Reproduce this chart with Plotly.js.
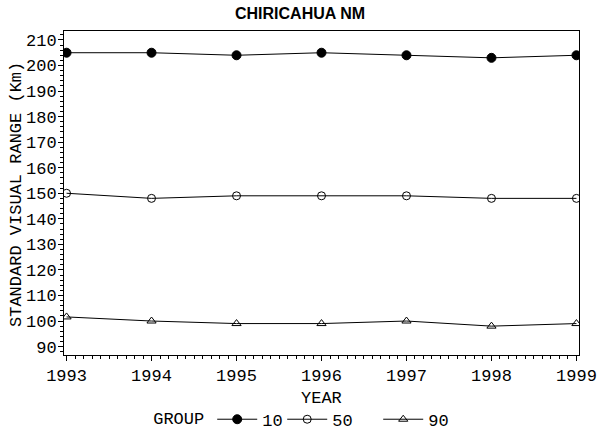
<!DOCTYPE html>
<html>
<head>
<meta charset="utf-8">
<script src="https://cdn.plot.ly/plotly-3.0.1.min.js"></script>
<style>
  html, body { margin: 0; padding: 0; background: #fff; }
  #chart { width: 600px; height: 430px; }
</style>
</head>
<body>
<div id="chart"></div>
<script>
const years = [1993, 1994, 1995, 1996, 1997, 1998, 1999];
const groups = ['10', '50', '90'];
const svr10 = [205, 205, 204, 205, 204, 203, 204];
const svr50 = [150, 148, 149, 149, 149, 148, 148];
const svr90 = [101.6, 100, 99, 99, 100, 98, 99];
const yTicks = [90, 100, 110, 120, 130, 140, 150, 160, 170, 180, 190, 200, 210];

const mono = 'Liberation Mono, DejaVu Sans Mono, monospace';

const symbols = {
  '10': { symbol: 'circle', size: 9, width: 15 },
  '50': { symbol: 'circle-open', size: 8, width: 41 },
  '90': { symbol: 'triangle-up-open', size: 8, width: 20 },
};
const series = { '10': svr10, '50': svr50, '90': svr90 };

const data = groups.map(g => ({
  type: 'scatter',
  mode: 'lines+markers',
  name: g,
  x: years,
  y: series[g],
  legendwidth: symbols[g].width,
  line: { color: '#000', width: 1 },
  marker: {
    symbol: symbols[g].symbol,
    size: symbols[g].size,
    color: '#000',
    line: { color: '#000', width: 1 },
  },
}));

// plot area in pixels: x 64..579, y 31..355
const plotW = 515;
const plotH = 324;

const layout = {
  width: 600,
  height: 430,
  margin: { l: 64, r: 21, t: 31, b: 75 },
  paper_bgcolor: '#fff',
  plot_bgcolor: '#fff',
  font: { family: mono, size: 16, color: '#000' },
  title: {
    text: 'CHIRICAHUA NM',
    font: { family: 'Liberation Sans, sans-serif', size: 16, weight: 'bold', color: '#000' },
    x: 0.5,
    xanchor: 'center',
    y: 0.968,
    yanchor: 'middle',
  },
  xaxis: {
    range: [1992.97, 1999.03],
    tickvals: years,
    ticktext: years.map(String),
    ticks: 'outside',
    ticklen: 5,
    tickwidth: 1,
    tickcolor: '#000',
    minor: { dtick: 0.1, tick0: 1993, ticks: 'outside', ticklen: 3, tickcolor: '#000', showgrid: false },
    showline: true,
    linecolor: '#000',
    linewidth: 1,
    mirror: true,
    showgrid: false,
    zeroline: false,
    tickfont: { family: mono, size: 17 },
  },
  yaxis: {
    range: [86.7, 213.5],
    tickvals: yTicks,
    ticks: 'outside',
    ticklen: 5,
    tickwidth: 1,
    tickcolor: '#000',
    minor: { dtick: 2, tick0: 90, ticks: 'outside', ticklen: 3, tickcolor: '#000', showgrid: false },
    showline: true,
    linecolor: '#000',
    linewidth: 1,
    mirror: true,
    showgrid: false,
    zeroline: false,
    ticklabelstandoff: -2,
    tickfont: { family: mono, size: 17 },
  },
  annotations: [
    {
      text: 'STANDARD VISUAL RANGE (Km)',
      xref: 'paper',
      yref: 'paper',
      x: (16 - 64) / plotW,
      y: (355 - 195) / plotH,
      xanchor: 'center',
      yanchor: 'middle',
      textangle: -90,
      showarrow: false,
      font: { family: mono, size: 17, color: '#000' },
    },
    {
      text: 'YEAR',
      xref: 'paper',
      yref: 'paper',
      x: 0.5,
      y: (355 - 398) / plotH,
      xanchor: 'center',
      yanchor: 'middle',
      showarrow: false,
      font: { family: mono, size: 17, color: '#000' },
    },
  ],
  showlegend: true,
  legend: {
    orientation: 'h',
    xref: 'container',
    yref: 'container',
    x: 0.252,
    xanchor: 'left',
    y: 0.024,
    yanchor: 'middle',
    itemwidth: 40,
    title: { text: 'GROUP', side: 'left', font: { family: mono, size: 17 } },
    font: { family: mono, size: 17 },
    bgcolor: 'rgba(0,0,0,0)',
    tracegroupgap: 0,
  },
};

Plotly.newPlot('chart', data, layout, { staticPlot: true, displayModeBar: false });
</script>
</body>
</html>
